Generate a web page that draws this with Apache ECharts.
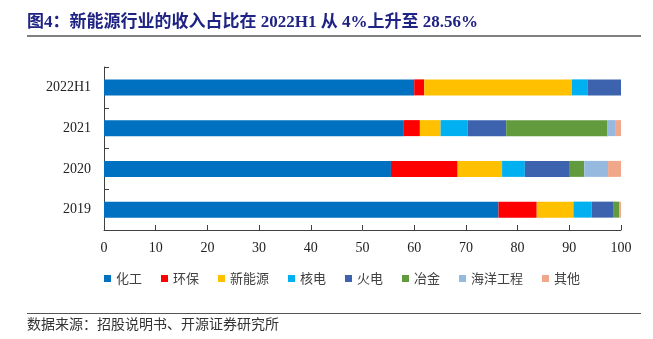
<!DOCTYPE html>
<html>
<head>
<meta charset="utf-8">
<script src="https://cdn.jsdelivr.net/npm/echarts@6/dist/echarts.min.js"></script>
<style>
  html, body { margin: 0; padding: 0; background: #fff; }
  #chart { width: 653px; height: 339px; }
</style>
</head>
<body>
<div id="chart"></div>
<script>
// Revenue share by business line (%), stacked to 100
const periods = ['2019', '2020', '2021', '2022H1'];
const segmentNames = ['化工', '环保', '新能源', '核电', '火电', '冶金', '海洋工程', '其他'];
const chemical    = [76.3, 55.5, 58.0, 60.0];
const environment = [7.4, 12.9, 3.1, 1.94];
const newEnergy   = [7.1, 8.6, 4.0, 28.56];
const nuclear     = [3.5, 4.4, 5.2, 3.0];
const thermal     = [4.3, 8.7, 7.5, 6.5];
const metallurgy  = [1.1, 2.8, 19.6, 0];
const marine      = [0, 4.6, 1.6, 0];
const others      = [0.3, 2.5, 1.0, 0];
const xTicks = [0, 10, 20, 30, 40, 50, 60, 70, 80, 90, 100];

const segmentValues = [chemical, environment, newEnergy, nuclear, thermal, metallurgy, marine, others];
const segmentColors = ['#0070C0', '#FF0000', '#FFC000', '#00B0F0', '#3D63AE', '#629A3E', '#96B9E0', '#F1A88A'];

const serif = '"Liberation Serif", "Times New Roman", "Noto Sans CJK SC", serif';
const cjk = '"Noto Sans CJK SC", sans-serif';

const chart = echarts.init(document.getElementById('chart'));
chart.setOption({
  animation: false,
  backgroundColor: '#ffffff',
  color: segmentColors,
  grid: { left: 104, right: 32, top: 67, bottom: 109, containLabel: false },
  legend: {
    data: segmentNames,
    left: 104,
    top: 272,
    padding: 0,
    itemWidth: 7,
    itemHeight: 7,
    itemGap: 19,
    icon: 'rect',
    textStyle: { fontFamily: cjk, fontSize: 13, color: '#404040' }
  },
  xAxis: {
    type: 'value',
    min: xTicks[0],
    max: xTicks[xTicks.length - 1],
    interval: xTicks[1] - xTicks[0],
    axisLine: { show: true, lineStyle: { color: '#404040', width: 1 } },
    axisTick: { show: true, inside: true, length: 5, lineStyle: { color: '#404040' } },
    splitLine: { show: false },
    axisLabel: { margin: 11, fontFamily: serif, fontSize: 14, color: '#222' }
  },
  yAxis: {
    type: 'category',
    data: periods,
    axisLine: { show: true, lineStyle: { color: '#404040', width: 1 } },
    axisTick: { show: true, inside: true, length: 5, lineStyle: { color: '#404040' } },
    axisLabel: { margin: 13, fontFamily: serif, fontSize: 14, color: '#222' }
  },
  series: segmentNames.map((name, i) => ({
    name: name,
    type: 'bar',
    stack: 'share',
    barWidth: 16,
    data: segmentValues[i],
    itemStyle: { color: segmentColors[i] }
  })),
  graphic: [
    {
      type: 'text',
      left: 27,
      top: 14,
      style: {
        text: '图4：新能源行业的收入占比在 2022H1 从 4%上升至 28.56%',
        font: 'bold 17px ' + serif,
        fill: '#1F2383'
      }
    },
    {
      type: 'line',
      shape: { x1: 27, y1: 36, x2: 641, y2: 36 },
      style: { stroke: '#808080', lineWidth: 2 }
    },
    {
      type: 'line',
      shape: { x1: 27, y1: 313.5, x2: 641, y2: 313.5 },
      style: { stroke: '#555555', lineWidth: 1 }
    },
    {
      type: 'text',
      left: 27,
      top: 317,
      style: {
        text: '数据来源：招股说明书、开源证券研究所',
        font: '14px ' + cjk,
        fill: '#333333'
      }
    }
  ]
});
</script>
</body>
</html>
